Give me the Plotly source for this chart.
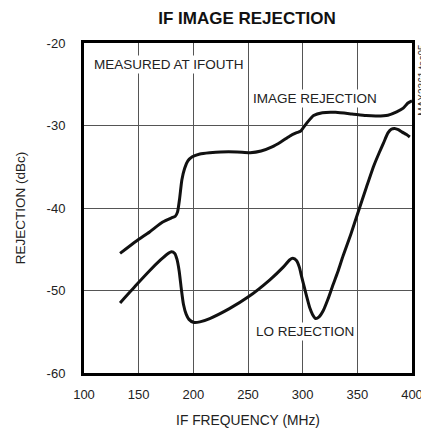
import plotly.graph_objects as go

# IF frequency (MHz) and rejection (dBc)
image_freq = [133, 148, 160, 172, 180, 183.5, 185.5, 187.5, 189.5, 192, 195, 199, 206, 215, 225, 240, 252, 262, 272, 280, 288, 294, 298, 301, 305, 310, 318, 330, 345, 358, 368, 378, 386, 392, 396, 400]
image_rej = [-45.5, -44.0, -42.9, -41.7, -41.2, -41.0, -40.5, -38.8, -36.6, -35.2, -34.3, -33.8, -33.45, -33.3, -33.2, -33.2, -33.3, -33.1, -32.6, -32.0, -31.3, -30.9, -30.7, -30.2, -29.5, -28.8, -28.45, -28.4, -28.6, -28.8, -28.85, -28.75, -28.35, -27.9, -27.3, -27.0]

lo_freq = [133, 148, 160, 170, 176, 180, 183, 185, 187, 189, 191, 193.5, 196, 200, 206, 215, 233, 250, 270, 282, 288, 291, 294.5, 297, 299, 301.5, 304, 306.5, 309, 312, 315, 319, 323, 327, 332, 337, 344, 351, 358, 365, 370, 374, 378, 381, 384, 387.5, 391, 395, 398]
lo_rej = [-51.5, -49.3, -47.6, -46.3, -45.6, -45.3, -45.5, -46.2, -47.6, -49.8, -51.7, -52.9, -53.5, -53.85, -53.8, -53.4, -52.2, -50.8, -48.7, -47.2, -46.3, -46.1, -46.4, -47.2, -48.3, -49.6, -50.9, -52.1, -52.9, -53.4, -53.2, -52.4, -51.1, -49.6, -47.8, -45.8, -43.2, -40.4, -37.6, -34.9, -33.3, -32.1, -30.9, -30.45, -30.35, -30.5, -30.8, -31.1, -31.4]

x_ticks = [100, 150, 200, 250, 300, 350, 400]
y_ticks = [-60, -50, -40, -30, -20]

FONT = "Liberation Sans, Arial, sans-serif"

fig = go.Figure()
fig.add_trace(go.Scatter(x=image_freq, y=image_rej, mode="lines",
                         line=dict(color="#111111", width=3, shape="spline", smoothing=0.6),
                         showlegend=False, hoverinfo="skip"))
fig.add_trace(go.Scatter(x=lo_freq, y=lo_rej, mode="lines",
                         line=dict(color="#111111", width=3, shape="spline", smoothing=0.6),
                         showlegend=False, hoverinfo="skip"))

fig.update_layout(
    width=421, height=425,
    margin=dict(l=76, r=17, t=35, b=60),
    paper_bgcolor="white", plot_bgcolor="white",
    font=dict(family=FONT, color="#222222", size=13),
    title=dict(text="<b>IF IMAGE REJECTION</b>", x=0.5677, xanchor="center",
               y=0.9765, yanchor="middle", font=dict(family=FONT, size=17, color="#111111")),
    xaxis=dict(range=[100, 400], tickvals=x_ticks, ticktext=[str(v) for v in x_ticks],
               showgrid=True, gridcolor="#555555", gridwidth=1, zeroline=False,
               showline=True, linecolor="black", linewidth=3, mirror=True,
               ticks="", ticklabelstandoff=7, tickfont=dict(size=13),
               title=dict(text="IF FREQUENCY (MHz)", font=dict(size=13.8), standoff=15),
               automargin=False),
    yaxis=dict(range=[-60, -20], tickvals=y_ticks, ticktext=[str(v) for v in y_ticks],
               showgrid=True, gridcolor="#555555", gridwidth=1, zeroline=False,
               showline=True, linecolor="black", linewidth=3, mirror=True,
               ticks="", ticklabelstandoff=13, tickfont=dict(size=13),
               title=dict(text="REJECTION (dBc)", font=dict(size=13.5), standoff=18),
               automargin=False),
)

fig.add_annotation(x=107, y=-22.6, xref="x", yref="y", text="MEASURED AT IFOUTH",
                   showarrow=False, xanchor="left", yanchor="middle",
                   bgcolor="white", borderpad=1, font=dict(size=13.5, color="#222222"))
fig.add_annotation(x=311, y=-26.7, xref="x", yref="y", text="IMAGE REJECTION",
                   showarrow=False, xanchor="center", yanchor="middle",
                   bgcolor="white", borderpad=1, font=dict(size=13.5, color="#222222"))
fig.add_annotation(x=302.5, y=-55.0, xref="x", yref="y", text="LO REJECTION",
                   showarrow=False, xanchor="center", yanchor="middle",
                   bgcolor="white", borderpad=1, font=dict(size=13.5, color="#222222"))
fig.add_annotation(x=1.0326, y=0.888, xref="paper", yref="paper", text="MAX2361 toc05",
                   showarrow=False, textangle=-90, xanchor="center", yanchor="middle",
                   font=dict(size=10, color="#333333"))

fig.write_html("out.html")
